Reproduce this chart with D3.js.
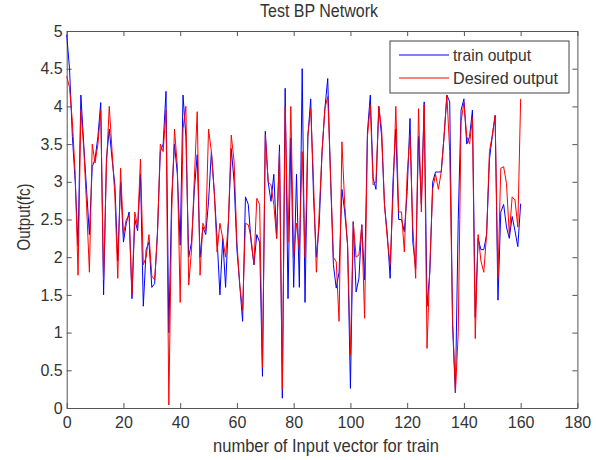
<!DOCTYPE html>
<html>
<head>
<meta charset="utf-8">
<script src="https://d3js.org/d3.v7.min.js"></script>
<style>
body { margin: 0; background: #fff; }
text { font-family: "Liberation Sans", Arial, sans-serif; fill: #333; }
</style>
</head>
<body>
<script>
var width = 596, height = 460;
var margin = {left: 66.7, right: 18.6, top: 31, bottom: 52};

// chart texts
var chartTitle = "Test BP Network";
var xLabel = "number of Input vector for train";
var yLabel = "Output(fc)";
var seriesNames = ["train output", "Desired output"];
var xTicks = [0, 20, 40, 60, 80, 100, 120, 140, 160, 180];
var yTicks = [0, 0.5, 1, 1.5, 2, 2.5, 3, 3.5, 4, 4.5, 5];

// network output (blue), one value per input vector
var trainOutput = [
 4.95, 4.50, 3.60, 3.00, 2.15, 4.15, 3.50, 2.90, 2.30, 3.20,
 3.30, 3.60, 4.05, 1.50, 3.30, 3.70, 3.30, 2.95, 1.95, 3.00,
 2.20, 2.45, 2.60, 1.45, 2.50, 2.35, 3.10, 1.35, 2.10, 2.20,
 1.60, 1.65, 2.35, 3.40, 3.50, 4.20, 1.00, 2.80, 3.50, 3.10,
 2.16, 4.15, 3.60, 2.00, 2.20, 2.90, 3.36, 2.00, 2.40, 2.30,
 2.74, 3.40, 2.87, 2.25, 1.50, 2.25, 1.60, 2.47, 3.44, 3.00,
 2.10, 1.63, 1.15, 2.80, 2.70, 2.20, 1.90, 2.30, 2.20, 0.42,
 3.67, 3.00, 2.74, 3.10, 2.25, 3.49, 0.13, 4.24, 1.45, 3.58,
 1.60, 3.10, 1.60, 4.50, 1.40, 3.60, 4.10, 2.80, 2.00, 2.43,
 3.40, 3.97, 4.37, 3.05, 1.90, 1.59, 1.80, 2.90, 2.60, 2.16,
 0.26, 2.47, 1.54, 1.72, 2.43, 1.70, 3.66, 4.15, 3.05, 2.90,
 4.00, 3.60, 2.70, 2.30, 1.72, 3.00, 3.70, 2.50, 2.50, 2.34,
 2.87, 3.84, 2.20, 1.85, 3.60, 2.70, 4.06, 1.35, 1.80, 3.00,
 3.13, 3.13, 3.13, 3.60, 4.15, 4.06, 1.10, 0.20, 2.50, 3.95,
 4.10, 3.50, 3.60, 3.95, 1.20, 2.25, 2.10, 2.10, 2.30, 3.30,
 3.60, 3.88, 1.43, 2.60, 2.70, 2.40, 2.25, 2.54, 2.35, 2.14,
 2.71
];

// desired output (red)
var desiredOutput = [
 4.40, 4.25, 3.80, 3.10, 1.76, 3.95, 3.45, 2.70, 1.80, 3.50,
 3.25, 3.50, 3.95, 1.70, 3.20, 4.00, 3.40, 2.80, 1.72, 3.18,
 2.30, 2.50, 2.55, 1.50, 2.60, 2.40, 3.30, 1.90, 2.00, 2.30,
 1.75, 1.70, 2.30, 3.50, 3.40, 3.95, 0.04, 2.60, 3.70, 3.20,
 1.40, 3.70, 4.00, 1.63, 2.10, 3.05, 3.93, 1.76, 2.45, 2.35,
 3.70, 3.40, 2.87, 2.07, 2.45, 2.25, 2.00, 2.47, 3.62, 3.27,
 2.20, 1.63, 1.30, 2.45, 2.43, 2.25, 1.90, 2.78, 2.70, 0.53,
 3.62, 3.00, 2.96, 2.70, 2.25, 3.40, 0.25, 4.00, 2.20, 4.00,
 2.00, 2.45, 2.10, 3.40, 2.00, 3.62, 3.97, 3.00, 1.80, 2.60,
 3.40, 3.97, 4.13, 3.10, 2.00, 1.94, 1.15, 3.53, 2.70, 2.16,
 0.70, 2.47, 2.00, 2.03, 2.43, 1.19, 3.60, 4.02, 2.96, 3.00,
 4.00, 3.70, 2.70, 2.25, 1.90, 2.80, 4.00, 2.60, 2.60, 2.07,
 3.10, 3.62, 2.40, 1.72, 3.97, 2.60, 4.02, 0.79, 1.90, 2.90,
 3.10, 2.90, 3.13, 3.60, 4.15, 3.40, 1.20, 0.20, 1.00, 3.80,
 4.05, 3.60, 3.50, 3.85, 0.92, 2.30, 1.95, 1.80, 2.30, 3.40,
 3.62, 3.88, 1.72, 3.18, 3.20, 2.98, 2.30, 2.80, 2.76, 2.40,
 4.10
];

var svg = d3.select('body').append('svg')
  .attr('width', width).attr('height', height);

var x = d3.scaleLinear().domain([0, 180]).range([margin.left, width - margin.right]);
var y = d3.scaleLinear().domain([0, 5]).range([height - margin.bottom, margin.top]);

// axes, matlab style: ticks inside on all four sides
var tickLen = 5;
var axisColor = '#555';
var tickFont = '16px';
var labelFont = '17.5px';
var fmt = d3.format('');

function styleAxis(g) {
  g.select('.domain').attr('stroke', axisColor);
  g.selectAll('.tick line').attr('stroke', axisColor);
  g.selectAll('text').style('font-size', tickFont).attr('fill', '#333');
}

svg.append('g').attr('transform', 'translate(0,' + y(0) + ')')
  .call(d3.axisBottom(x).tickValues(xTicks).tickFormat(fmt).tickSize(-tickLen).tickPadding(9).tickSizeOuter(0))
  .call(styleAxis);
svg.append('g').attr('transform', 'translate(' + x(0) + ',0)')
  .call(d3.axisLeft(y).tickValues(yTicks).tickFormat(fmt).tickSize(-tickLen).tickPadding(4).tickSizeOuter(0))
  .call(styleAxis);
svg.append('g').attr('transform', 'translate(0,' + y(5) + ')')
  .call(d3.axisTop(x).tickValues(xTicks).tickSize(-tickLen).tickFormat('').tickSizeOuter(0))
  .call(styleAxis);
svg.append('g').attr('transform', 'translate(' + x(180) + ',0)')
  .call(d3.axisRight(y).tickValues(yTicks).tickSize(-tickLen).tickFormat('').tickSizeOuter(0))
  .call(styleAxis);

// the two series
var line = d3.line()
  .x(function(d, i) { return x(i); })
  .y(function(d) { return y(d); });

svg.append('path').datum(trainOutput)
  .attr('d', line).attr('fill', 'none')
  .attr('stroke', '#0000ff').attr('stroke-width', 1);
svg.append('path').datum(desiredOutput)
  .attr('d', line).attr('fill', 'none')
  .attr('stroke', '#ff0000').attr('stroke-width', 1);

// titles (the original font is a bit condensed, so squeeze to the measured widths)
function squeeze(t, w) {
  t.attr('textLength', w).attr('lengthAdjust', 'spacingAndGlyphs');
}
svg.append('text').attr('x', 319).attr('y', 17)
  .attr('text-anchor', 'middle').style('font-size', '18px').text(chartTitle)
  .call(squeeze, 118);
svg.append('text').attr('x', 326).attr('y', 452)
  .attr('text-anchor', 'middle').style('font-size', labelFont).text(xLabel)
  .call(squeeze, 226);
svg.append('text').attr('transform', 'translate(30,217) rotate(-90)')
  .attr('text-anchor', 'middle').style('font-size', labelFont).text(yLabel)
  .call(squeeze, 67);

// legend
var legend = svg.append('g').attr('transform', 'translate(390,41)');
legend.append('rect').attr('width', 179).attr('height', 52)
  .attr('fill', '#fff').attr('stroke', '#444').attr('stroke-width', 1);
var legendColors = ['#0000ff', '#ff0000'];
var legendWidths = [78, 105];
seriesNames.forEach(function(name, i) {
  var ly = 14 + i * 23;
  legend.append('line').attr('x1', 9).attr('x2', 59).attr('y1', ly).attr('y2', ly)
    .attr('stroke', legendColors[i]).attr('stroke-width', 1);
  legend.append('text').attr('x', 63).attr('y', ly + 6)
    .style('font-size', '17px').text(name)
    .call(squeeze, legendWidths[i]);
});
</script>
</body>
</html>
